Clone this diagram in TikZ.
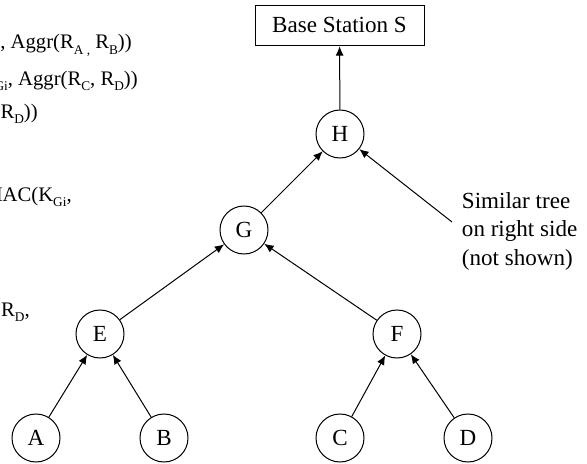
\documentclass[tikz,border=0pt]{standalone}
\usepackage{fontspec}
\setmainfont{Liberation Serif}
\usetikzlibrary{arrows.meta}
\newcommand{\sbs}[1]{\raisebox{-0.25em}{\fontsize{10}{11}\selectfont #1}}
\begin{document}
\begin{tikzpicture}[x=0.75pt,y=-0.75pt,
  every node/.style={font=\fontsize{17.3}{20}\selectfont},
  nd/.style={circle,draw,line width=0.75pt,minimum size=36pt,inner sep=0pt},
  bs/.style={rectangle,draw,line width=0.75pt,minimum width=126.75pt,minimum height=30.5pt,inner sep=0pt},
  conn/.style={line width=0.75pt,-{Latex[length=7pt,width=6pt]}},
  lbl/.style={anchor=base east,inner sep=0pt,font=\fontsize{15.5}{18}\selectfont},
  rlbl/.style={anchor=base west,inner sep=0pt}]
\useasboundingbox (0,0) rectangle (587,464);
\clip (0,0) rectangle (587,464);
% base station
\node[bs] (S) at (339.5,25.4) {Base Station S};
% tree nodes
\node[nd] (H) at (340,134) {H};
\node[nd] (G) at (244,230) {G};
\node[nd] (E) at (100,334) {E};
\node[nd] (F) at (397,334) {F};
\node[nd] (A) at (36,438) {A};
\node[nd] (B) at (164,438) {B};
\node[nd] (C) at (340,438) {C};
\node[nd] (D) at (468,438) {D};
% side note
\node[rlbl] (s1) at (461.7,208.3) {Similar tree};
\node[rlbl] (s2) at (461.7,236.8) {on right side};
\node[rlbl] (s3) at (461.7,265.3) {(not shown)};
\coordinate (st) at (452,222);
% connectors
\draw[conn] (H) -- (S);
\draw[conn] (G) -- (H);
\draw[conn] (st) -- (H);
\draw[conn] (E) -- (G);
\draw[conn] (F) -- (G);
\draw[conn] (A) -- (E);
\draw[conn] (B) -- (E);
\draw[conn] (C) -- (F);
\draw[conn] (D) -- (F);
% message texts on the left, cut off by the left edge as in the reference
\node[lbl] (t1) at (132,49) {, Aggr(R\sbs{A ,} R\sbs{B}))};
\node[lbl] (t2) at (138,85) {K\sbs{Gi}, Aggr(R\sbs{C}, R\sbs{D}))};
\node[lbl] (t3) at (38,118) {R\sbs{D}))};
\node[lbl] (t4) at (72,201) {MAC(K\sbs{Gi},};
\node[lbl] (t5) at (30,316) {R\sbs{D},};
\end{tikzpicture}
\end{document}
